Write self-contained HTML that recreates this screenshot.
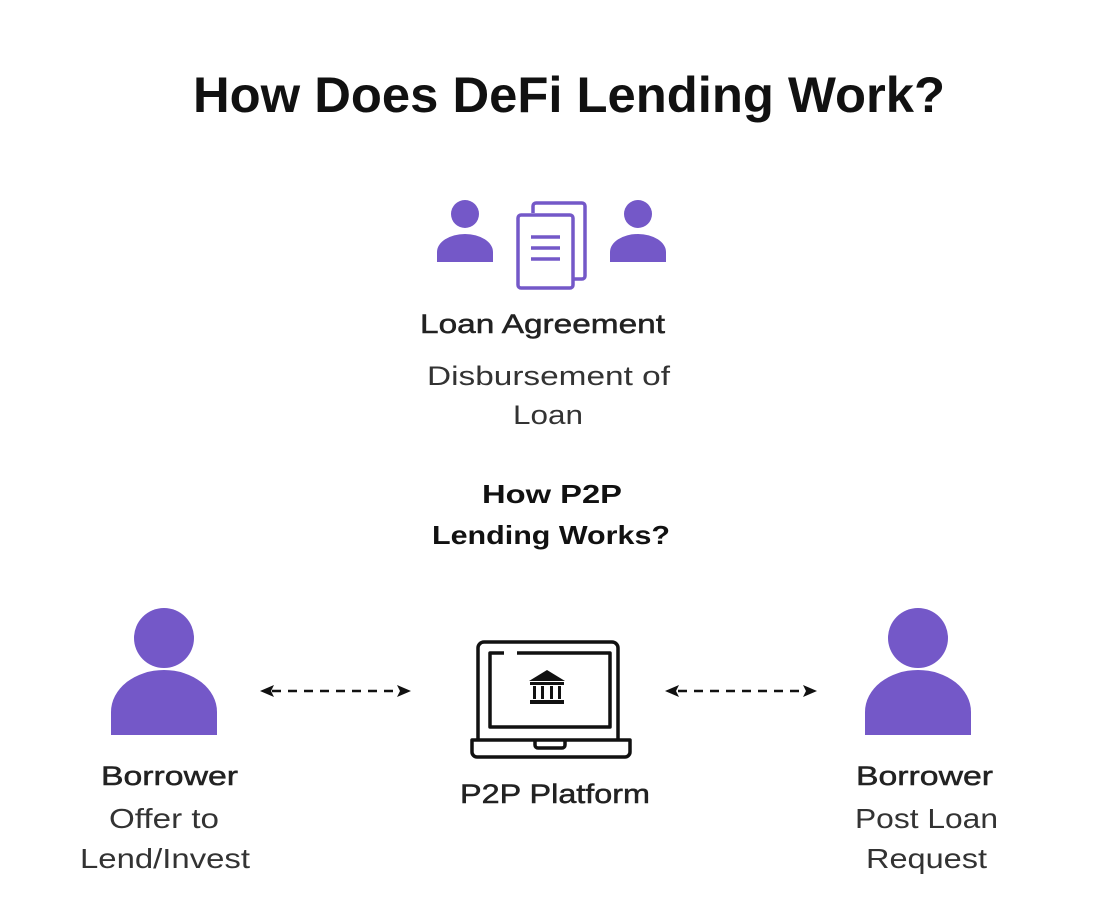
<!DOCTYPE html>
<html><head><meta charset="utf-8"><style>
html,body{margin:0;padding:0;background:#fff;}
svg{display:block;font-family:"Liberation Sans",sans-serif;}
</style></head><body>
<svg width="1108" height="908" viewBox="0 0 1108 908" xmlns="http://www.w3.org/2000/svg">
<rect width="1108" height="908" fill="#fff"/>
<text x="193" y="112" font-size="50" font-weight="bold" fill="#111" textLength="752" lengthAdjust="spacingAndGlyphs">How Does DeFi Lending Work?</text>

<g fill="#7458c8">
<circle cx="465" cy="214" r="14"/>
<path d="M437 262 V252 A28 18 0 0 1 493 252 V262 Z"/>
<circle cx="638" cy="214" r="14"/>
<path d="M610 262 V252 A28 18 0 0 1 666 252 V262 Z"/>
</g>
<g fill="none" stroke="#7458c8" stroke-width="3.5" stroke-linejoin="round">
<path d="M533 213 V206 a3 3 0 0 1 3 -3 H582 a3 3 0 0 1 3 3 V276 a3 3 0 0 1 -3 3 H574"/>
<rect x="518" y="215" width="55" height="73" rx="3" fill="#fff"/>
<line x1="531" y1="237" x2="560" y2="237"/>
<line x1="531" y1="248" x2="560" y2="248"/>
<line x1="531" y1="259" x2="560" y2="259"/>
</g>

<g fill="#222" stroke="#222" stroke-width="0.5">
<text x="420" y="333" font-size="27" textLength="245" lengthAdjust="spacingAndGlyphs">Loan Agreement</text>
</g>
<g fill="#333">
<text x="427" y="385" font-size="27" textLength="243" lengthAdjust="spacingAndGlyphs">Disbursement of</text>
<text x="513" y="424" font-size="27" textLength="70" lengthAdjust="spacingAndGlyphs">Loan</text>
</g>
<g fill="#111" font-weight="bold">
<text x="482" y="503" font-size="26" textLength="140" lengthAdjust="spacingAndGlyphs">How P2P</text>
<text x="432" y="544" font-size="26" textLength="238" lengthAdjust="spacingAndGlyphs">Lending Works?</text>
</g>

<g fill="#7458c8">
<circle cx="164" cy="638" r="30"/>
<path d="M111 735 V712 A53 42 0 0 1 217 712 V735 Z"/>
<circle cx="918" cy="638" r="30"/>
<path d="M865 735 V712 A53 42 0 0 1 971 712 V735 Z"/>
</g>

<g stroke="#111" stroke-width="2.5" stroke-dasharray="9 7">
<line x1="272" y1="691" x2="400" y2="691"/>
<line x1="678" y1="691" x2="806" y2="691"/>
</g>
<g fill="#111">
<path d="M260 691 L274 685 L271 691 L274 697 Z"/>
<path d="M411 691 L397 685 L400 691 L397 697 Z"/>
<path d="M665 691 L679 685 L676 691 L679 697 Z"/>
<path d="M817 691 L803 685 L806 691 L803 697 Z"/>
</g>

<g fill="none" stroke="#111" stroke-width="3.5" stroke-linejoin="round">
<path d="M478 740 V648 a6 6 0 0 1 6 -6 H612 a6 6 0 0 1 6 6 V740"/>
<path d="M504 653 H490 V727 H610 V653 H517"/>
<path d="M472 740 H630 V752 a5 5 0 0 1 -5 5 H477 a5 5 0 0 1 -5 -5 Z"/>
<path d="M535 740 v5 a3 3 0 0 0 3 3 h24 a3 3 0 0 0 3 -3 v-5"/>
</g>
<g fill="#111">
<path d="M547 670 L565 681 H529 Z"/>
<rect x="530" y="682" width="34" height="3"/>
<rect x="533" y="686" width="3" height="13"/>
<rect x="541" y="686" width="3" height="13"/>
<rect x="550" y="686" width="3" height="13"/>
<rect x="558" y="686" width="3" height="13"/>
<rect x="530" y="700" width="34" height="4"/>
</g>

<g fill="#222" stroke="#222" stroke-width="0.5" font-size="27" lengthAdjust="spacingAndGlyphs">
<text x="101" y="785" textLength="137" lengthAdjust="spacingAndGlyphs">Borrower</text>
<text x="460" y="803" textLength="190" lengthAdjust="spacingAndGlyphs">P2P Platform</text>
<text x="856" y="785" textLength="137" lengthAdjust="spacingAndGlyphs">Borrower</text>
</g>
<g fill="#333" font-size="28">
<text x="109" y="828" textLength="110" lengthAdjust="spacingAndGlyphs">Offer to</text>
<text x="80" y="868" textLength="170" lengthAdjust="spacingAndGlyphs">Lend/Invest</text>
<text x="855" y="828" textLength="143" lengthAdjust="spacingAndGlyphs">Post Loan</text>
<text x="866" y="868" textLength="121" lengthAdjust="spacingAndGlyphs">Request</text>
</g>
</svg>
</body></html>
